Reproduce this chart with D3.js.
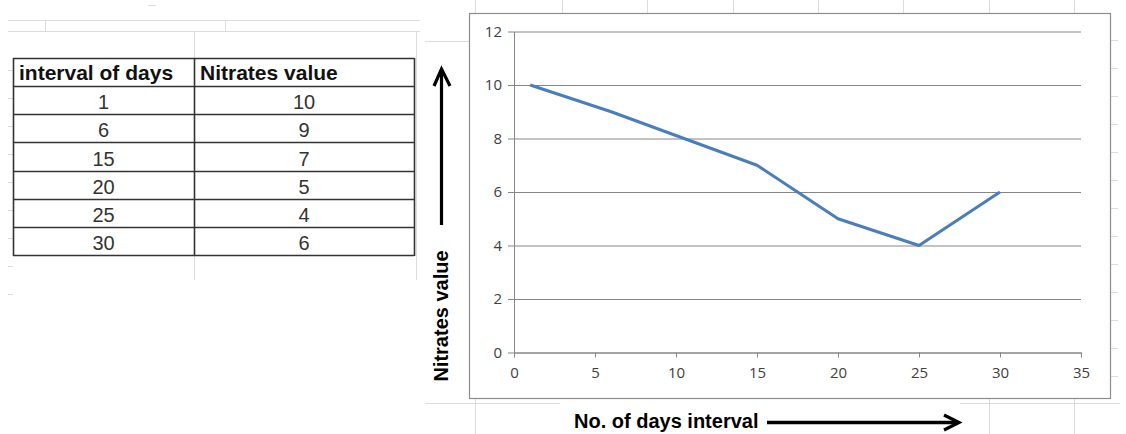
<!DOCTYPE html>
<html><head><meta charset="utf-8">
<script src="https://cdn.jsdelivr.net/npm/d3@7"></script>
<style>html,body{margin:0;padding:0;background:#fff;}svg{display:block;}
.tk text{font-family:"Open Sans",sans-serif !important;font-size:15px !important;fill:#404040;}</style>
</head><body>
<svg id="c" width="1126" height="434"></svg>
<script>
const days = [1, 6, 15, 20, 25, 30];
const nitrates = [10, 9, 7, 5, 4, 6];
const xTicks = [0, 5, 10, 15, 20, 25, 30, 35];
const yTicks = [0, 2, 4, 6, 8, 10, 12];
const tableHeaders = ["interval of days", "Nitrates value"];
const xTitle = "No. of days interval";
const yTitle = "Nitrates value";

const svg = d3.select("#c");
const grid = "#dcdcdc";

const bg = svg.append("g").attr("stroke", grid).attr("stroke-width", 1).attr("fill", "none");
bg.append("line").attr("x1", 8).attr("x2", 420).attr("y1", 20.5).attr("y2", 20.5);
bg.append("line").attr("x1", 8).attr("x2", 420).attr("y1", 31.5).attr("y2", 31.5);
bg.append("line").attr("x1", 45.5).attr("x2", 45.5).attr("y1", 20).attr("y2", 31);
bg.append("line").attr("x1", 225.5).attr("x2", 225.5).attr("y1", 20).attr("y2", 31);
bg.append("line").attr("x1", 194.5).attr("x2", 194.5).attr("y1", 31).attr("y2", 280);
bg.append("line").attr("x1", 416.5).attr("x2", 416.5).attr("y1", 31).attr("y2", 280);
bg.append("line").attr("x1", 148).attr("x2", 156).attr("y1", 5.5).attr("y2", 5.5);
[475, 562, 647, 733, 818, 903, 989, 1074].forEach(x => {
  bg.append("line").attr("x1", x + .5).attr("x2", x + .5).attr("y1", 0).attr("y2", 13);
});
[475, 989, 1074].forEach(x => {
  bg.append("line").attr("x1", x + .5).attr("x2", x + .5).attr("y1", 398).attr("y2", 434);
});
bg.append("line").attr("x1", 425).attr("x2", 469).attr("y1", 41.5).attr("y2", 41.5);
bg.append("line").attr("x1", 425).attr("x2", 560).attr("y1", 403.5).attr("y2", 403.5);
bg.append("line").attr("x1", 960).attr("x2", 1120).attr("y1", 403.5).attr("y2", 403.5);
d3.range(40, 400, 28).forEach(y => {
  bg.append("line").attr("x1", 1110).attr("x2", 1118).attr("y1", y + .5).attr("y2", y + .5);
});
d3.range(70, 300, 28).forEach(y => {
  bg.append("line").attr("x1", 8).attr("x2", 13).attr("y1", y + .5).attr("y2", y + .5);
});

// ---- table ----
const rowsY = d3.scaleBand().domain(d3.range(days.length + 1)).range([58, 255]);
const colEdges = [13, 194, 414];
const tbl = svg.append("g");
tbl.selectAll("line.h").data(d3.range(days.length + 2)).join("line")
  .attr("x1", colEdges[0]).attr("x2", colEdges[2])
  .attr("y1", i => Math.round(58 + i * rowsY.step()) + .5)
  .attr("y2", i => Math.round(58 + i * rowsY.step()) + .5)
  .attr("stroke", "#333").attr("stroke-width", 1.6);
tbl.selectAll("line.v").data(colEdges).join("line")
  .attr("x1", d => d + .5).attr("x2", d => d + .5).attr("y1", 58).attr("y2", 256)
  .attr("stroke", "#333").attr("stroke-width", 1.6);
tbl.selectAll("text.hd").data(tableHeaders).join("text")
  .attr("x", (d, i) => colEdges[i] + 6)
  .attr("y", rowsY(0) + rowsY.bandwidth() / 2).attr("dy", "0.38em")
  .attr("font-family", "Liberation Sans, Arial, sans-serif").attr("font-weight", "bold")
  .attr("font-size", 21).attr("fill", "#111").text(d => d);
const rows = days.map((d, i) => [d, nitrates[i]]);
rows.forEach((r, i) => {
  r.forEach((v, j) => {
    tbl.append("text")
      .attr("x", (colEdges[j] + colEdges[j + 1]) / 2)
      .attr("y", rowsY(i + 1) + rowsY.bandwidth() / 2).attr("dy", "0.45em")
      .attr("text-anchor", "middle")
      .attr("font-family", "Liberation Sans, Arial, sans-serif")
      .attr("font-size", 20).attr("fill", "#333").text(v);
  });
});

// ---- chart box ----
svg.append("rect").attr("x", 469.5).attr("y", 13.5).attr("width", 641).attr("height", 385)
  .attr("fill", "#fff").attr("stroke", "#8c8c8c").attr("stroke-width", 1.2);

const x = d3.scaleLinear().domain([0, 35]).range([514, 1081]);
const y = d3.scaleLinear().domain([0, 12]).range([352.5, 31.5]);

const g = svg.append("g");
const yAxis = g.append("g").attr("class", "tk").attr("transform", "translate(514,0)")
  .call(d3.axisLeft(y).tickValues(yTicks).tickSize(-(1081 - 514)).tickSizeOuter(0).tickPadding(12));
yAxis.select(".domain").attr("stroke", "#868686");
yAxis.selectAll(".tick line").attr("stroke", "#868686").attr("stroke-width", 1.1).attr("x1", -6);

const xAxis = g.append("g").attr("class", "tk").attr("transform", `translate(0,${y(0)})`)
  .call(d3.axisBottom(x).tickValues(xTicks).tickSize(5).tickSizeOuter(0).tickPadding(10));
xAxis.select(".domain").attr("stroke", "#868686").attr("stroke-width", 1.1);
xAxis.selectAll(".tick line").attr("stroke", "#868686");

g.append("path").datum(rows)
  .attr("d", d3.line().x(d => x(d[0])).y(d => y(d[1])))
  .attr("fill", "none").attr("stroke", "#4a7ebb").attr("stroke-width", 3)
  .attr("stroke-linejoin", "round");

// ---- axis titles & arrows ----
svg.append("text").attr("transform", "translate(448,316) rotate(-90)")
  .attr("text-anchor", "middle")
  .attr("font-family", "Liberation Sans, Arial, sans-serif").attr("font-weight", "bold")
  .attr("font-size", 20).attr("fill", "#000").text(yTitle);
svg.append("line").attr("x1", 441.5).attr("x2", 441.5).attr("y1", 71).attr("y2", 225)
  .attr("stroke", "#000").attr("stroke-width", 3.2);
svg.append("path").attr("d", "M434,86 L441.5,69 L450,86")
  .attr("fill", "none").attr("stroke", "#000").attr("stroke-width", 3.2).attr("stroke-linejoin", "miter");

svg.append("text").attr("x", 574).attr("y", 428)
  .attr("font-family", "Liberation Sans, Arial, sans-serif").attr("font-weight", "bold")
  .attr("font-size", 20).attr("fill", "#000").text(xTitle);
svg.append("line").attr("x1", 767).attr("x2", 957).attr("y1", 422.5).attr("y2", 422.5)
  .attr("stroke", "#000").attr("stroke-width", 3.4);
svg.append("path").attr("d", "M944,415 L959,422.5 L944,430")
  .attr("fill", "none").attr("stroke", "#000").attr("stroke-width", 3.2);
</script>
</body></html>
